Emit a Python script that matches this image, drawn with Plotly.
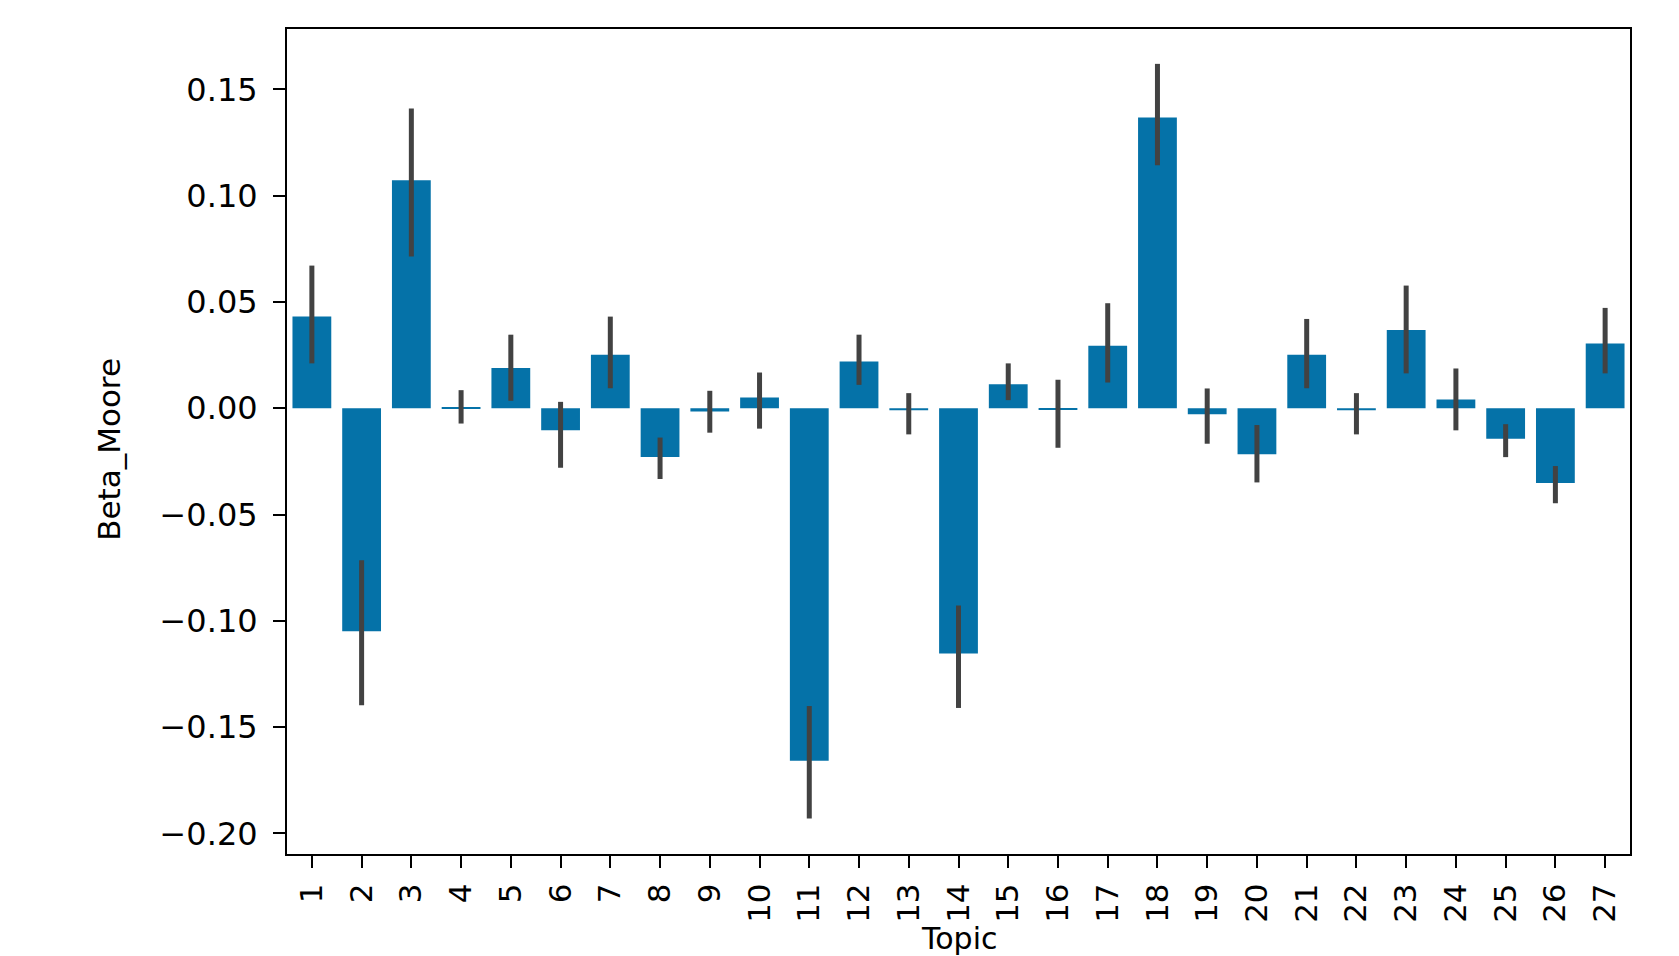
import plotly.graph_objects as go

topics = [str(i) for i in range(1, 28)]
beta_moore = [0.0431, -0.1049, 0.1072, 0.0005, 0.0189, -0.0104, 0.0252, -0.0230, -0.0015, 0.0050,
              -0.1658, 0.0220, -0.0010, -0.1154, 0.0113, -0.0005, 0.0294, 0.1368, -0.0028, -0.0217,
              0.0252, -0.0010, 0.0368, 0.0041, -0.0143, -0.0352, 0.0305]
ci_low = [0.0211, -0.1397, 0.0714, -0.0072, 0.0035, -0.0280, 0.0094, -0.0333, -0.0115, -0.0096,
          -0.1930, 0.0110, -0.0123, -0.1410, 0.0038, -0.0186, 0.0121, 0.1143, -0.0167, -0.0349,
          0.0094, -0.0123, 0.0164, -0.0104, -0.0230, -0.0447, 0.0164]
ci_high = [0.0671, -0.0715, 0.1410, 0.0085, 0.0346, 0.0030, 0.0431, -0.0138, 0.0082, 0.0168,
           -0.1401, 0.0346, 0.0071, -0.0928, 0.0211, 0.0134, 0.0494, 0.1620, 0.0093, -0.0079,
           0.0420, 0.0071, 0.0577, 0.0187, -0.0075, -0.0272, 0.0472]
y_tick_vals = [-0.20, -0.15, -0.10, -0.05, 0.00, 0.05, 0.10, 0.15]
y_tick_text = ["\u22120.20", "\u22120.15", "\u22120.10", "\u22120.05", "0.00", "0.05", "0.10", "0.15"]
x_title = "Topic"
y_title = "Beta_Moore"

err_plus = [h - v for h, v in zip(ci_high, beta_moore)]
err_minus = [v - l for v, l in zip(beta_moore, ci_low)]

FONT = "DejaVu Sans"

fig = go.Figure()
fig.add_trace(go.Bar(
    x=topics, y=beta_moore, width=0.78,
    marker=dict(color="#0572A8", line=dict(width=0)),
    error_y=dict(type="data", symmetric=False, array=err_plus, arrayminus=err_minus,
                 color="#424242", thickness=5, width=0),
    showlegend=False,
))

fig.update_layout(
    width=1671, height=948,
    margin=dict(l=279, r=49, t=21, b=102, autoexpand=False),
    paper_bgcolor="white", plot_bgcolor="white",
    font=dict(family=FONT, size=31, color="black"),
)
fig.update_xaxes(
    type="category", categoryorder="array", categoryarray=topics,
    range=[-0.5, 26.5], tickangle=-90,
    showline=True, linecolor="black", linewidth=2, mirror=True,
    ticks="outside", ticklen=12, tickwidth=2, tickcolor="black",
    ticklabelstandoff=3, showgrid=False, zeroline=False,
    tickfont=dict(family=FONT, size=31, color="black"),
    automargin=False,
)
fig.update_yaxes(
    range=[-0.2097, 0.1784], tickmode="array", tickvals=y_tick_vals, ticktext=y_tick_text,
    showline=True, linecolor="black", linewidth=2, mirror=True,
    ticks="outside", ticklen=12, tickwidth=2, tickcolor="black",
    ticklabelstandoff=9, showgrid=False, zeroline=False,
    tickfont=dict(family=FONT, size=32, color="black"),
    automargin=False,
)
fig.add_annotation(text=x_title, xref="paper", yref="paper", x=0.5, y=-0.079,
                   xanchor="center", yanchor="top", showarrow=False,
                   font=dict(family=FONT, size=30, color="black"))
fig.add_annotation(text=y_title, xref="paper", yref="paper", x=-0.1325, y=0.49,
                   xanchor="center", yanchor="middle", textangle=-90, showarrow=False,
                   font=dict(family=FONT, size=31, color="black"))

fig.write_html("out.html")
